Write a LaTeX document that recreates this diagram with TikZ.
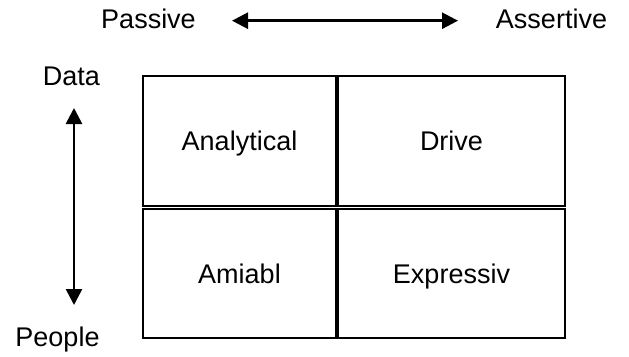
\documentclass[tikz,border=0pt]{standalone}
\usepackage{fontspec}
\setmainfont{Liberation Sans}
\usetikzlibrary{arrows.meta}
\begin{document}
\begin{tikzpicture}[x=1pt,y=-1pt,
  every node/.style={font=\fontsize{27}{32}\selectfont},
  quad/.style={draw, line width=1.8pt, text height=19.5pt, text depth=0pt, inner sep=0pt},
  lbl/.style={inner sep=0pt, anchor=base},
  dbl/.style={line width=2.6pt, {Triangle[length=16pt,width=16pt]}-{Triangle[length=16pt,width=16pt]}}
]
\useasboundingbox (0,0) rectangle (629,356);
\fill[white] (0,0) rectangle (629,356);
% labels
\node[lbl] (passive) at (148.5,28) {Passive};
\node[lbl] (assertive) at (551.5,28) {Assertive};
\node[lbl] (data) at (71.5,85) {Data};
\node[lbl] (people) at (57.5,346) {People};
% quadrants
\node[quad, minimum width=193pt, minimum height=130pt] (an) at (239.5,141) {Analytical};
\node[quad, minimum width=227pt, minimum height=130pt] (dr) at (451.5,141) {Drive};
\node[quad, minimum width=193pt, minimum height=129pt] (am) at (239.5,273.5) {Amiabl};
\node[quad, minimum width=227pt, minimum height=129pt] (ex) at (451.5,273.5) {Expressiv};
% arrows
\coordinate (htl) at (232,20.7);
\coordinate (htr) at (458,20.7);
\coordinate (vtt) at (74,108);
\coordinate (vtb) at (74,305);
\draw[dbl] (htl) -- (htr);
\draw[dbl] (vtt) -- (vtb);
\end{tikzpicture}
\end{document}
